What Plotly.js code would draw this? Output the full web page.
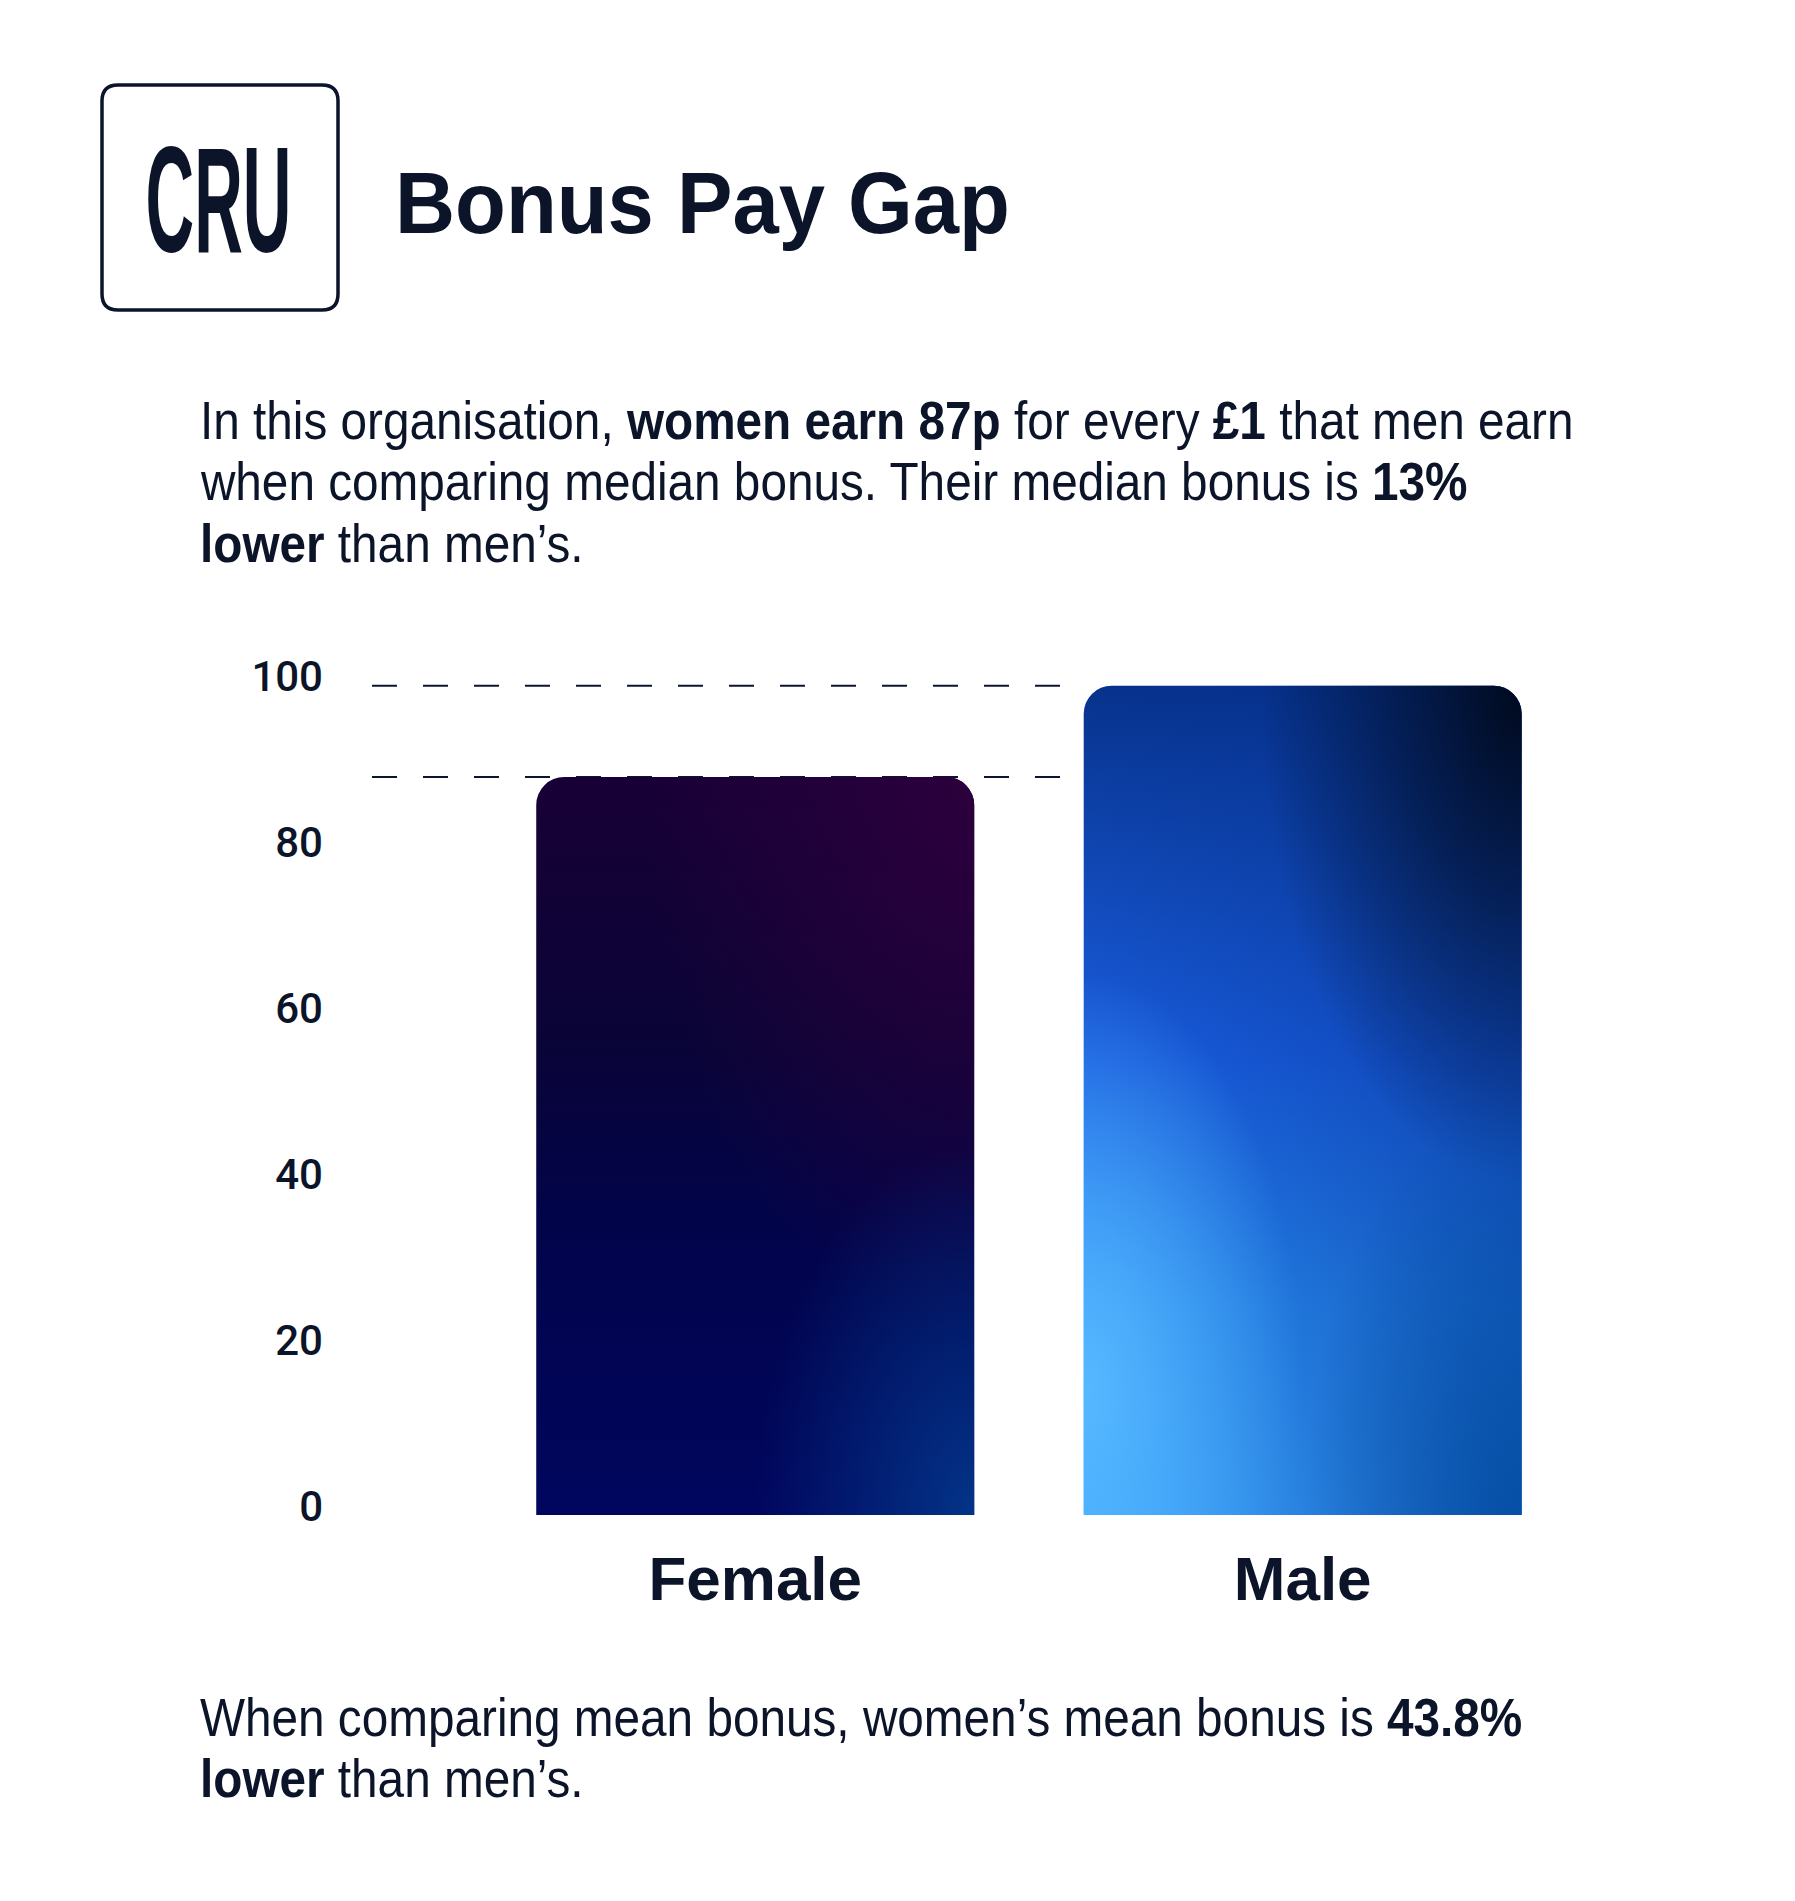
<!DOCTYPE html>
<html><head><meta charset="utf-8">
<script src="https://cdn.plot.ly/plotly-3.0.1.min.js"></script>
<style>html,body{margin:0;padding:0;background:#fff}#chart{width:1795px;height:1901px}</style>
</head><body><div id="chart"></div>
<script>
// ---- data ----
const categories = ['Female', 'Male'];
const values = [89, 100];
const yTickVals = [0, 20, 40, 60, 80, 100];
const yTickText = ['0', '20', '40', '60', '80', '100'];
const titleText = 'Bonus Pay Gap';
const logoText = 'CRU';
const introLines = [
  'In this organisation, <b>women earn 87p</b> for every <b>£1</b> that men earn',
  'when comparing median bonus. Their median bonus is <b>13%</b>',
  '<b>lower</b> than men’s.'
];
const meanLines = [
  'When comparing mean bonus, women’s mean bonus is <b>43.8%</b>',
  '<b>lower</b> than men’s.'
];

// ---- layout helpers ----
const W = 1795, H = 1901;
const M = {l: 372, r: 235, t: 660, b: 386};
const PW = W - M.l - M.r, PH = H - M.t - M.b;
const px = X => (X - M.l) / PW;
const py = Y => (H - M.b - Y) / PH;
const INK = '#0b1428';
const SANS = '"Liberation Sans", Arial, sans-serif';
const TICKFONT = 'Roboto, "Liberation Sans", Arial, sans-serif';
const BAR_GAP = 0.2, BAR_W = 1 - BAR_GAP;
const xRange = [-0.70, 1.47];
const yRange = [0, 103.1];

function roundRect(x0, y0, x1, y1, r) {
  const X = px, Y = py;
  return 'M' + X(x0 + r) + ',' + Y(y0) +
    ' L' + X(x1 - r) + ',' + Y(y0) + ' Q' + X(x1) + ',' + Y(y0) + ' ' + X(x1) + ',' + Y(y0 + r) +
    ' L' + X(x1) + ',' + Y(y1 - r) + ' Q' + X(x1) + ',' + Y(y1) + ' ' + X(x1 - r) + ',' + Y(y1) +
    ' L' + X(x0 + r) + ',' + Y(y1) + ' Q' + X(x0) + ',' + Y(y1) + ' ' + X(x0) + ',' + Y(y1 - r) +
    ' L' + X(x0) + ',' + Y(y0 + r) + ' Q' + X(x0) + ',' + Y(y0) + ' ' + X(x0 + r) + ',' + Y(y0) + ' Z';
}

const annotations = [];
const fitInfo = []; // per annotation: {group, width} for horizontal condensing
function addText(text, x, baseline, size, anchor, fit) {
  annotations.push({
    text: text, xref: 'paper', yref: 'paper', x: px(x), y: py(baseline - 0.35 * size),
    xanchor: anchor || 'left', yanchor: 'middle', showarrow: false, align: 'left',
    font: {family: SANS, size: size, color: INK}
  });
  fitInfo.push(fit || null);
}
// logo
addText('<b>' + logoText + '</b>', 218, 252, 150, 'center', {group: 'logo', width: 146});
// title
addText('<b>' + titleText + '</b>', 393, 233, 88, 'left', {group: 'title', width: 615});
// intro paragraph
const introBase = [439, 500, 562];
introLines.forEach((t, i) => addText(t, 198, introBase[i], 54, 'left', {group: 'body', width: i === 0 ? 1374 : null}));
// mean paragraph
const meanBase = [1736, 1797];
meanLines.forEach((t, i) => addText(t, 198, meanBase[i], 54, 'left', {group: 'body', width: null}));

const shapes = [
  {type: 'path', xref: 'paper', yref: 'paper', path: roundRect(102, 85, 338, 310, 16),
   line: {color: INK, width: 3.5}, fillcolor: 'rgba(0,0,0,0)'}
];
values.forEach(v => shapes.push({
  type: 'line', xref: 'x', yref: 'y', x0: xRange[0], x1: 1 - BAR_W / 2, y0: v, y1: v,
  line: {color: '#0b1530', width: 2, dash: '25px,26px'}, layer: 'below'
}));

const data = [{
  type: 'bar', x: categories, y: values,
  marker: {color: ['#0a0440', '#1a5ee0'], cornerradius: 28, line: {width: 0}},
  hoverinfo: 'skip'
}];

const layout = {
  width: W, height: H, margin: {l: M.l, r: M.r, t: M.t, b: M.b, pad: 0},
  paper_bgcolor: '#ffffff', plot_bgcolor: 'rgba(0,0,0,0)', showlegend: false,
  bargap: BAR_GAP,
  xaxis: {range: xRange, showgrid: false, zeroline: false, showline: false, ticks: '',
    tickfont: {family: SANS, size: 62, color: INK, weight: 'bold'}, ticklabelstandoff: 22},
  yaxis: {range: yRange, tickvals: yTickVals, ticktext: yTickText, showgrid: false,
    zeroline: false, showline: false, ticks: '', ticklabelstandoff: 48, ticklabelshift: -9,
    tickfont: {family: TICKFONT, size: 42, color: INK, weight: 500}},
  shapes: shapes, annotations: annotations
};

const gd = document.getElementById('chart');
Plotly.newPlot(gd, data, layout, {staticPlot: true, displayModeBar: false}).then(function () {
  const NS = 'http://www.w3.org/2000/svg';
  const svg = gd.querySelector('svg.main-svg');
  const defs = document.createElementNS(NS, 'defs');
  defs.innerHTML =
    '<linearGradient id="fBase" x1="0" y1="0" x2="0" y2="1">' +
      '<stop offset="0" stop-color="#180036"/><stop offset="0.35" stop-color="#0a0436"/>' +
      '<stop offset="0.6" stop-color="#02044a"/><stop offset="1" stop-color="#00065e"/></linearGradient>' +
    '<radialGradient id="fTR" cx="1" cy="0" r="0.75">' +
      '<stop offset="0" stop-color="#2c003c" stop-opacity="1"/><stop offset="1" stop-color="#2c003c" stop-opacity="0"/></radialGradient>' +
    '<radialGradient id="fBR" cx="1" cy="1" r="0.5">' +
      '<stop offset="0" stop-color="#03368a" stop-opacity="0.95"/><stop offset="1" stop-color="#03368a" stop-opacity="0"/></radialGradient>' +
    '<linearGradient id="mBase" x1="0" y1="0" x2="0" y2="1">' +
      '<stop offset="0" stop-color="#07328c"/><stop offset="0.45" stop-color="#1a5ee0"/>' +
      '<stop offset="0.75" stop-color="#2a8ef5"/><stop offset="1" stop-color="#38a2ff"/></linearGradient>' +
    '<linearGradient id="mRight" x1="0" y1="0" x2="1" y2="0">' +
      '<stop offset="0" stop-color="#03308e" stop-opacity="0"/><stop offset="1" stop-color="#03308e" stop-opacity="0.55"/></linearGradient>' +
    '<radialGradient id="mTR" cx="1" cy="0" r="0.6">' +
      '<stop offset="0" stop-color="#010a1e" stop-opacity="1"/><stop offset="1" stop-color="#010a1e" stop-opacity="0"/></radialGradient>' +
    '<radialGradient id="mBR" cx="1" cy="1" r="0.5">' +
      '<stop offset="0" stop-color="#054fa6" stop-opacity="1"/><stop offset="1" stop-color="#054fa6" stop-opacity="0"/></radialGradient>' +
    '<radialGradient id="mBL" cx="0" cy="0.85" r="0.5">' +
      '<stop offset="0" stop-color="#58baff" stop-opacity="0.95"/><stop offset="1" stop-color="#58baff" stop-opacity="0"/></radialGradient>';
  svg.insertBefore(defs, svg.firstChild);
  const fills = [['fBase', 'fTR', 'fBR'], ['mBase', 'mRight', 'mTR', 'mBR', 'mBL']];
  const paths = gd.querySelectorAll('.barlayer .point path');
  paths.forEach(function (p, i) {
    const list = fills[i];
    if (!list) return;
    p.style.fill = 'url(#' + list[0] + ')';
    let last = p;
    for (let k = 1; k < list.length; k++) {
      const c = p.cloneNode(true);
      c.style.fill = 'url(#' + list[k] + ')';
      last.parentNode.insertBefore(c, last.nextSibling);
      last = c;
    }
  });
  // condense lettering horizontally to match the reference typeface
  const groups = gd.querySelectorAll('g.annotation');
  const texts = [];
  groups.forEach(function (g) {
    const idx = +g.getAttribute('data-index');
    texts[idx] = g.querySelector('.annotation-text');
  });
  const scales = {};
  fitInfo.forEach(function (f, i) {
    if (f && f.width && texts[i]) scales[f.group] = f.width / texts[i].getBBox().width;
  });
  fitInfo.forEach(function (f, i) {
    const t = texts[i];
    if (!f || !t || !scales[f.group]) return;
    const bb = t.getBBox();
    const ax = annotations[i].xanchor === 'center' ? bb.x + bb.width / 2 : bb.x;
    const s = scales[f.group];
    t.setAttribute('transform', 'translate(' + ax + ',0) scale(' + s + ',1) translate(' + (-ax) + ',0)');
  });
});
</script>
</body></html>
